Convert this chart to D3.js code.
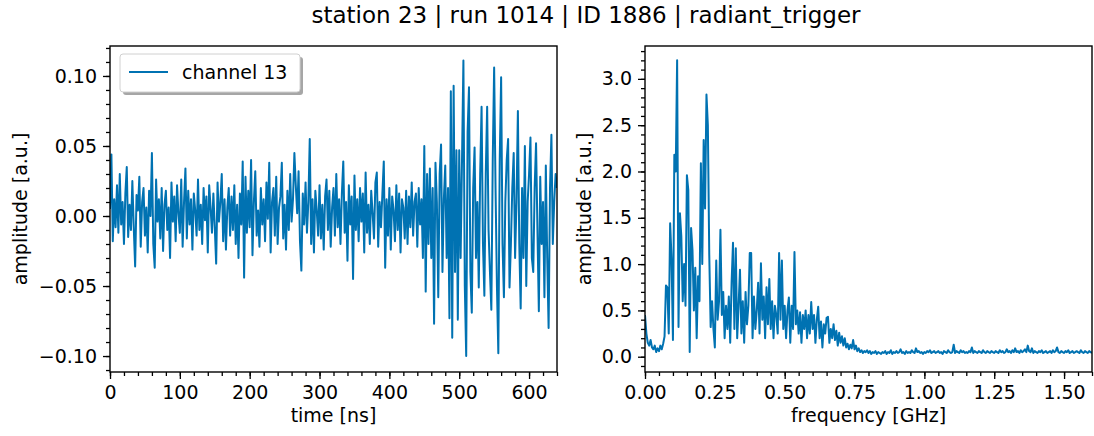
<!DOCTYPE html>
<html>
<head>
<meta charset="utf-8">
<script src="https://cdn.jsdelivr.net/npm/d3@7"></script>
<style>
  body { margin: 0; background: #fff; }
  svg { font-family: "DejaVu Sans", sans-serif; }
</style>
</head>
<body>
<div class="svg-container"></div>
<script>
/*** data ***/

const title = "station 23 | run 1014 | ID 1886 | radiant_trigger"
const channelName = "channel 13"

// time trace, one sample every 2 ns from 0 to 640 ns
const timeStep = 2
const amplitude = [
  0.005, 0.044, -0.018, 0.012, -0.008, 0.022, -0.012, 0.030, -0.006, 0.010,
  -0.020, 0.016, 0.035, -0.015, 0.008, -0.010, 0.025, -0.008, -0.036, 0.015,
  0.004, 0.028, -0.022, 0.010, 0.020, -0.014, 0.006, -0.026, 0.018, 0.000,
  0.045, -0.020, -0.037, 0.026, -0.004, 0.012, -0.016, 0.020, -0.025, 0.008,
  0.018, -0.010, 0.006, -0.030, 0.024, -0.004, 0.014, -0.018, 0.022, 0.002,
  -0.012, 0.026, -0.022, 0.010, 0.034, -0.016, 0.018, -0.006, 0.012, -0.024,
  0.016, 0.004, -0.014, 0.026, -0.010, 0.008, -0.020, 0.020, -0.003, 0.014,
  -0.026, 0.022, 0.006, -0.012, 0.016, -0.008, -0.034, 0.024, -0.004, 0.010,
  0.030, -0.018, 0.012, -0.024, 0.006, 0.020, -0.014, 0.014, -0.010, 0.022,
  -0.020, 0.008, -0.030, 0.016, -0.006, 0.039, -0.044, 0.028, -0.012, 0.018,
  -0.008, 0.040, -0.028, 0.010, 0.032, -0.014, 0.004, -0.022, 0.020, -0.006,
  0.012, -0.018, 0.024, -0.002, 0.038, -0.026, 0.010, 0.020, -0.014, 0.028,
  -0.020, 0.006, 0.014, 0.038, -0.016, 0.008, -0.024, 0.018, -0.010, 0.030,
  -0.004, 0.012, 0.045, 0.022, 0.002, 0.032, -0.018, -0.039, 0.016, -0.006,
  0.024, -0.012, 0.010, 0.055, -0.020, 0.012, -0.026, 0.018, 0.004, -0.014,
  0.022, -0.016, 0.008, -0.024, 0.014, 0.026, -0.010, 0.018, -0.022, 0.006,
  0.020, -0.014, 0.030, -0.008, 0.012, -0.020, 0.016, 0.039, -0.012, 0.010,
  -0.032, 0.022, -0.006, 0.014, -0.045, 0.029, -0.010, 0.012, -0.018, 0.020,
  -0.004, 0.016, -0.026, 0.031, -0.012, 0.008, -0.020, 0.018, 0.002, -0.016,
  0.024, 0.031, -0.022, 0.010, -0.008, 0.016, 0.039, -0.037, 0.012, -0.014,
  0.020, -0.024, 0.014, 0.004, -0.018, 0.022, -0.010, 0.016, -0.026, 0.012,
  0.006, -0.016, 0.018, -0.020, 0.014, -0.008, 0.024, -0.014, 0.010, 0.016,
  -0.022, 0.020, -0.006, 0.012, -0.030, 0.050, -0.054, 0.030, -0.020, 0.034,
  -0.030, 0.020, -0.077, 0.038, 0.010, -0.058, 0.030, 0.051, -0.040, 0.012,
  0.036, -0.030, 0.020, -0.073, 0.089, -0.087, 0.093, -0.040, 0.047, -0.074,
  0.047, -0.030, 0.040, 0.111, -0.050, -0.100, 0.060, 0.092, -0.040, -0.069,
  0.020, 0.049, -0.030, 0.010, -0.051, 0.030, 0.078, -0.020, -0.057, 0.030,
  0.078, -0.010, -0.040, -0.067, 0.040, 0.106, 0.020, -0.050, -0.098, 0.040,
  0.099, -0.020, -0.058, 0.010, 0.040, 0.055, -0.051, -0.020, 0.020, 0.045,
  -0.030, 0.010, 0.075, -0.020, -0.066, 0.020, -0.030, 0.050, -0.050, 0.010,
  0.030, 0.056, -0.030, -0.040, 0.020, 0.052, -0.010, -0.068, 0.028, -0.020,
  0.010, -0.058, 0.036, -0.030, -0.080, 0.020, 0.058, -0.020, 0.010, 0.030,
  0.020
]

// spectrum, one bin every 5 MHz from 0 to 1.6 GHz
const freqStep = 0.005
const spectrum = [
  0.45, 0.25, 0.15, 0.12, 0.18, 0.10, 0.08, 0.12, 0.05, 0.09,
  0.06, 0.12, 0.08, 0.14, 0.22, 0.77, 0.75, 0.25, 1.44, 1.06,
  0.18, 2.18, 2.00, 3.20, 0.32, 1.55, 1.30, 0.60, 1.00, 0.55,
  1.96, 1.80, 0.05, 1.39, 1.15, 0.50, 0.96, 0.20, 0.87, 0.60,
  2.09, 1.00, 2.34, 1.60, 2.83, 2.50, 1.10, 0.32, 0.60, 0.30,
  0.10, 1.04, 0.40, 0.60, 1.37, 0.45, 0.70, 0.20, 0.55, 0.30,
  0.65, 0.15, 0.80, 1.23, 0.30, 1.17, 0.20, 0.55, 0.94, 0.25,
  0.60, 0.15, 0.70, 0.35, 0.55, 1.12, 1.12, 0.20, 0.65, 0.30,
  0.50, 0.80, 0.25, 1.01, 0.40, 0.65, 0.20, 0.75, 0.35, 0.84,
  0.30, 0.60, 0.20, 0.55, 0.45, 0.25, 1.12, 0.40, 1.04, 0.30,
  0.55, 0.20, 0.50, 0.64, 0.15, 0.55, 0.30, 1.13, 0.35, 0.50,
  0.25, 0.48, 0.15, 0.45, 0.30, 0.50, 0.20, 0.45, 0.25, 0.59,
  0.30, 0.45, 0.15, 0.40, 0.54, 0.20, 0.38, 0.10, 0.35, 0.25,
  0.42, 0.43, 0.15, 0.30, 0.20, 0.35, 0.18, 0.28, 0.12, 0.26,
  0.15, 0.22, 0.12, 0.20, 0.10, 0.14, 0.08, 0.13, 0.09, 0.18,
  0.08, 0.12, 0.06, 0.09, 0.05, 0.07, 0.04, 0.06, 0.05, 0.07,
  0.04, 0.06, 0.03, 0.05, 0.04, 0.06, 0.03, 0.05, 0.04, 0.03,
  0.05, 0.04, 0.06, 0.03, 0.05, 0.04, 0.07, 0.03, 0.05, 0.04,
  0.06, 0.04, 0.05, 0.08, 0.04, 0.05, 0.03, 0.06, 0.04, 0.05,
  0.04, 0.07, 0.05, 0.04, 0.09, 0.05, 0.06, 0.04, 0.05, 0.03,
  0.05, 0.04, 0.06, 0.05, 0.07, 0.04, 0.05, 0.06, 0.04, 0.05,
  0.06, 0.04, 0.05, 0.03, 0.06, 0.05, 0.04, 0.07, 0.05, 0.04,
  0.05, 0.13, 0.04, 0.06, 0.05, 0.04, 0.07, 0.05, 0.06, 0.04,
  0.05, 0.04, 0.06, 0.05, 0.10, 0.04, 0.06, 0.05, 0.04, 0.06,
  0.05, 0.04, 0.07, 0.05, 0.04, 0.06, 0.05, 0.04, 0.06, 0.05,
  0.04, 0.06, 0.05, 0.04, 0.07, 0.05, 0.06, 0.04, 0.05, 0.08,
  0.05, 0.06, 0.04, 0.07, 0.05, 0.09, 0.05, 0.06, 0.04, 0.07,
  0.05, 0.06, 0.08, 0.05, 0.12, 0.06, 0.05, 0.09, 0.04, 0.06,
  0.05, 0.04, 0.06, 0.05, 0.07, 0.04, 0.05, 0.06, 0.04, 0.05,
  0.06, 0.04, 0.07, 0.05, 0.06, 0.10, 0.05, 0.04, 0.06, 0.05,
  0.04, 0.06, 0.05, 0.07, 0.04, 0.05, 0.06, 0.04, 0.05, 0.06,
  0.05, 0.04, 0.07, 0.05, 0.04, 0.06, 0.05, 0.04, 0.06, 0.05,
  0.04
]

const timeTicks = [0, 100, 200, 300, 400, 500, 600]
const ampTicks = [-0.10, -0.05, 0.00, 0.05, 0.10]
const freqTicks = [0, 0.25, 0.5, 0.75, 1.0, 1.25, 1.5]
const specTicks = [0, 0.5, 1.0, 1.5, 2.0, 2.5, 3.0]

/*** layout ***/

const svgWidth = 1094
const svgHeight = 436
const lineColor = "#0072b2"
const fontSize = 19

let svg = d3.select(".svg-container")
    .append("svg")
    .attr("width", svgWidth)
    .attr("height", svgHeight)

svg.append("text")
    .attr("x", 586)
    .attr("y", 23)
    .style("text-anchor", "middle")
    .style("font-size", "23px")
    .text(title)

// one panel: scales, line, axes with minor ticks
function drawPanel(opts) {
    let xScale = d3.scaleLinear().domain(opts.xDomain).range([opts.left, opts.right])
    let yScale = d3.scaleLinear().domain(opts.yDomain).range([opts.bottom, opts.top])

    let g = svg.append("g")

    g.append("clipPath").attr("id", opts.id)
        .append("rect")
        .attr("x", opts.left).attr("y", opts.top)
        .attr("width", opts.right - opts.left).attr("height", opts.bottom - opts.top)

    let line = d3.line()
        .x((d, i) => xScale(i * opts.step))
        .y(d => yScale(d))

    g.append("path")
        .datum(opts.values)
        .attr("clip-path", `url(#${opts.id})`)
        .attr("d", line)
        .attr("fill", "none")
        .attr("stroke", lineColor)
        .attr("stroke-width", 2)
        .attr("stroke-linejoin", "round")

    // minor ticks
    let xMinor = g.append("g")
        .attr("transform", `translate(0, ${opts.bottom})`)
        .call(d3.axisBottom(xScale).tickValues(opts.xMinor).tickSize(4).tickFormat(""))
    let yMinor = g.append("g")
        .attr("transform", `translate(${opts.left}, 0)`)
        .call(d3.axisLeft(yScale).tickValues(opts.yMinor).tickSize(4).tickFormat(""))

    let xAxis = g.append("g")
        .attr("transform", `translate(0, ${opts.bottom})`)
        .call(d3.axisBottom(xScale).tickValues(opts.xTicks).tickSize(7).tickPadding(5)
            .tickFormat(opts.xFormat))
    let yAxis = g.append("g")
        .attr("transform", `translate(${opts.left}, 0)`)
        .call(d3.axisLeft(yScale).tickValues(opts.yTicks).tickSize(7).tickPadding(6)
            .tickFormat(opts.yFormat))

    for (let ax of [xMinor, yMinor, xAxis, yAxis]) {
        ax.select(".domain").remove()
        ax.selectAll("line").attr("stroke", "#000").attr("stroke-width", 1.3)
        ax.selectAll("text")
            .style("font-size", fontSize + "px")
            .style("font-family", "DejaVu Sans")
            .attr("fill", "#000")
    }
    xAxis.selectAll("text").attr("dy", "0.8em")

    // frame
    g.append("rect")
        .attr("x", opts.left).attr("y", opts.top)
        .attr("width", opts.right - opts.left).attr("height", opts.bottom - opts.top)
        .attr("fill", "none")
        .attr("stroke", "#000")
        .attr("stroke-width", 1.4)

    g.append("text")
        .attr("x", (opts.left + opts.right) / 2)
        .attr("y", 422)
        .style("text-anchor", "middle")
        .style("font-size", fontSize + "px")
        .text(opts.xLabel)

    g.append("text")
        .attr("transform", `translate(${opts.yLabelX}, ${(opts.top + opts.bottom) / 2}) rotate(-90)`)
        .style("text-anchor", "middle")
        .style("font-size", fontSize + "px")
        .text(opts.yLabel)

    return { xScale, yScale }
}

let minorOf = (lo, hi, step) => d3.range(Math.round(lo / step), Math.round(hi / step) + 1).map(k => k * step)

drawPanel({
    id: "clipTime",
    left: 110, right: 557, top: 46, bottom: 372,
    xDomain: [0, 640], yDomain: [-0.1114, 0.1214],
    values: amplitude, step: timeStep,
    xTicks: timeTicks, yTicks: ampTicks,
    xMinor: minorOf(0, 640, 20), yMinor: minorOf(-0.11, 0.12, 0.01),
    xFormat: d3.format("d"), yFormat: d => d3.format(".2f")(d).replace("-", "\u2212"),
    xLabel: "time [ns]", yLabel: "amplitude [a.u.]", yLabelX: 27
})

drawPanel({
    id: "clipFreq",
    left: 645, right: 1092, top: 46, bottom: 372,
    xDomain: [0, 1.6], yDomain: [-0.165, 3.355],
    values: spectrum, step: freqStep,
    xTicks: freqTicks, yTicks: specTicks,
    xMinor: minorOf(0, 1.6, 0.05), yMinor: minorOf(-0.1, 3.3, 0.1),
    xFormat: d3.format(".2f"), yFormat: d3.format(".1f"),
    xLabel: "frequency [GHz]", yLabel: "amplitude [a.u.]", yLabelX: 591
})

/* legend with shadow */

let legend = svg.append("g").attr("transform", "translate(120, 54)")

legend.append("rect")
    .attr("x", 3).attr("y", 3)
    .attr("width", 180).attr("height", 38)
    .attr("rx", 3)
    .attr("fill", "#a6a6a6")

legend.append("rect")
    .attr("x", 0).attr("y", 0)
    .attr("width", 180).attr("height", 38)
    .attr("rx", 3)
    .attr("fill", "#fff")
    .attr("stroke", "#d0d0d0")
    .attr("stroke-width", 1)

legend.append("line")
    .attr("x1", 9).attr("x2", 48)
    .attr("y1", 18).attr("y2", 18)
    .attr("stroke", lineColor)
    .attr("stroke-width", 2)

legend.append("text")
    .attr("x", 62).attr("y", 25)
    .style("font-size", fontSize + "px")
    .text(channelName)
</script>
</body>
</html>
